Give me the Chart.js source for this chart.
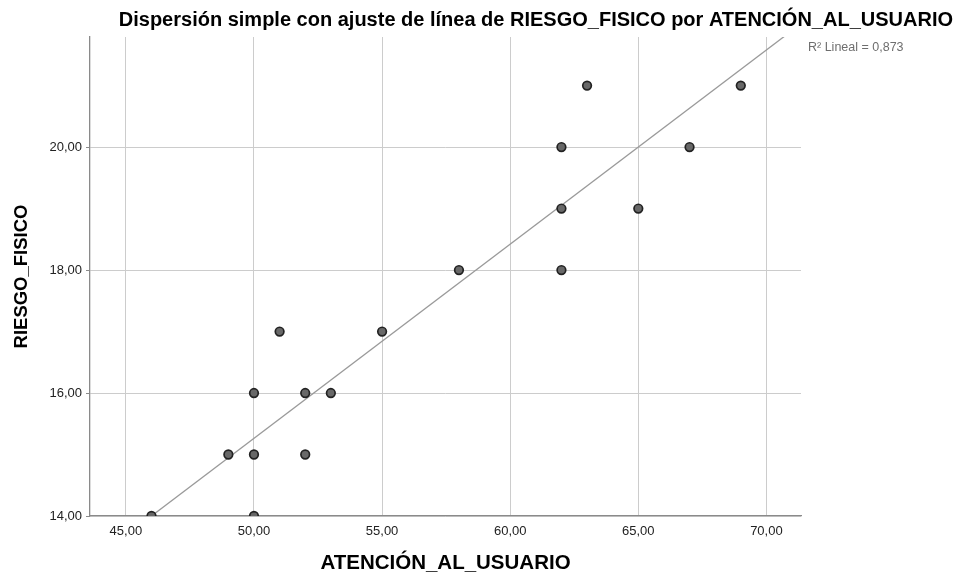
<!DOCTYPE html>
<html>
<head>
<meta charset="utf-8">
<script src="https://cdn.jsdelivr.net/npm/chart.js@4/dist/chart.umd.min.js"></script>
<style>
  html, body { margin: 0; padding: 0; background: #ffffff; }
  #wrap { width: 957px; height: 574px; position: relative; }
</style>
</head>
<body>
<div id="wrap"><canvas id="c" width="957" height="574"></canvas></div>
<script>
// Observed cases: ATENCIÓN_AL_USUARIO (x) vs RIESGO_FISICO (y)
const atencion = [46, 49, 50, 50, 50, 51, 52, 52, 53, 55, 58, 62, 62, 62, 63, 65, 67, 69];
const riesgo   = [14, 15, 16, 15, 14, 17, 16, 15, 16, 17, 18, 20, 19, 18, 21, 19, 20, 21];

// Axis ticks and range
const xTicks = [45, 50, 55, 60, 65, 70];
const yTicks = [14, 16, 18, 20];
const xRange = [43.6, 71.35];
const yRange = [14, 21.79];

// Linear fit: RIESGO_FISICO = intercept + slope * ATENCIÓN_AL_USUARIO
const fitIntercept = -0.5263;
const fitSlope = 0.31579;
const r2Text = 'R\u00B2 Lineal = 0,873';

const titleText = 'Dispersi\u00F3n simple con ajuste de l\u00EDnea de RIESGO_FISICO por ATENCI\u00D3N_AL_USUARIO';

const FONT = '"Liberation Sans", Arial, sans-serif';
const fmt = v => v.toFixed(2).replace('.', ',');

const points = atencion.map((x, i) => ({ x: x, y: riesgo[i] }));
const fitLine = xRange.map(x => ({ x: x, y: fitIntercept + fitSlope * x }));

const textPlugin = {
  id: 'chartText',
  afterDraw(chart) {
    const ctx = chart.ctx;
    const a = chart.chartArea;
    ctx.save();
    ctx.fillStyle = '#000';
    ctx.font = 'bold 20px ' + FONT;
    ctx.textAlign = 'right';
    ctx.textBaseline = 'middle';
    ctx.fillText(titleText, 953, 20);
    ctx.fillStyle = '#6e6e6e';
    ctx.font = '12.5px ' + FONT;
    ctx.textAlign = 'left';
    ctx.fillText(r2Text, a.right + 7, 48);
    ctx.restore();
  }
};

new Chart(document.getElementById('c'), {
  type: 'scatter',
  data: {
    datasets: [
      {
        type: 'line',
        data: fitLine,
        borderColor: '#9a9a9a',
        borderWidth: 1.3,
        pointRadius: 0,
        fill: false,
        clip: 0,
        order: 2
      },
      {
        data: points,
        backgroundColor: '#686868',
        borderColor: '#222222',
        borderWidth: 1.7,
        pointRadius: 4.3,
        pointHoverRadius: 4.3,
        clip: 0,
        order: 1
      }
    ]
  },
  plugins: [textPlugin],
  options: {
    responsive: false,
    animation: false,
    events: [],
    layout: { padding: { top: 37, right: 156, bottom: 0, left: 0 } },
    plugins: { legend: { display: false }, tooltip: { enabled: false }, title: { display: false } },
    scales: {
      x: {
        type: 'linear',
        min: xRange[0],
        max: xRange[1],
        afterBuildTicks: s => { s.ticks = xTicks.map(v => ({ value: v })); },
        afterFit: s => { s.height = 58; },
        grid: { color: '#cccccc', lineWidth: 1, drawTicks: false },
        border: { color: '#8a8a8a', width: 1.3 },
        ticks: { callback: v => fmt(v), color: '#222', font: { family: FONT, size: 13 }, padding: 8, maxRotation: 0 },
        title: { display: true, text: 'ATENCI\u00D3N_AL_USUARIO', color: '#000', font: { family: FONT, size: 20.5, weight: 'bold', lineHeight: 1 }, padding: { top: 0, bottom: 0 } }
      },
      y: {
        type: 'linear',
        min: yRange[0],
        max: yRange[1],
        afterBuildTicks: s => { s.ticks = yTicks.map(v => ({ value: v })); },
        afterFit: s => { s.width = 90; },
        grid: { color: '#cccccc', lineWidth: 1, drawTicks: true, tickLength: 4, tickColor: '#8a8a8a' },
        border: { color: '#8a8a8a', width: 1.3 },
        ticks: { callback: v => fmt(v), color: '#222', font: { family: FONT, size: 13 }, padding: 4 },
        title: { display: true, text: 'RIESGO_FISICO', color: '#000', font: { family: FONT, size: 18.5, weight: 'bold', lineHeight: 1.2 }, padding: { top: 11, bottom: 0 } }
      }
    }
  }
});
</script>
</body>
</html>
